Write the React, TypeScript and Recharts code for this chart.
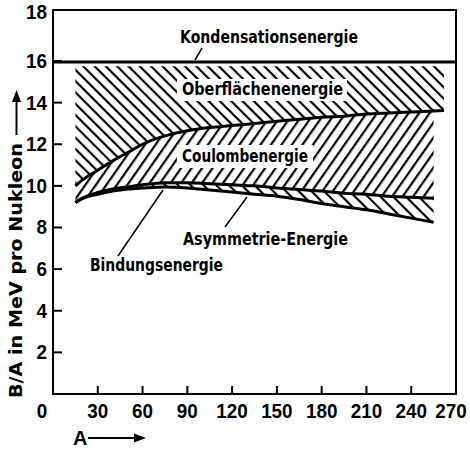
import React from 'react'
import {
  ComposedChart,
  Area,
  Line,
  XAxis,
  YAxis,
  ReferenceLine,
  ReferenceArea,
} from 'recharts'

// Massenzahl A
const massNumbers = [15, 20, 30, 40, 50, 60, 75, 90, 105, 120, 135, 150, 165, 180, 195, 210, 225, 240, 255, 262]
// Volumen- minus Oberflächenenergie
const surfaceCurve = [10.0, 10.3, 10.75, 11.2, 11.6, 12.0, 12.4, 12.65, 12.8, 12.9, 13.0, 13.1, 13.2, 13.3, 13.35, 13.45, 13.5, 13.55, 13.6, 13.62]
// zusätzlich minus Coulombenergie
const coulombCurve = [9.2, 9.42, 9.68, 9.85, 9.95, 10.05, 10.15, 10.15, 10.1, 10.05, 10.0, 9.9, 9.82, 9.75, 9.65, 9.6, 9.5, 9.45, 9.4, null]
// Bindungsenergie (zusätzlich minus Asymmetrie-Energie)
const bindingCurve = [9.2, 9.4, 9.6, 9.75, 9.85, 9.9, 9.95, 9.9, 9.8, 9.7, 9.6, 9.5, 9.35, 9.15, 9.0, 8.85, 8.65, 8.45, 8.25, null]
const condensationLevel = 15.95
const surfaceHatchTop = 15.75

const xTicks = [0, 30, 60, 90, 120, 150, 180, 210, 240, 270]
const yTicks = [2, 4, 6, 8, 10, 12, 14, 16, 18]

const chartData = massNumbers.map((a, i) => ({
  a,
  surf: surfaceCurve[i],
  coul: coulombCurve[i],
  bind: bindingCurve[i],
  surfBand: [surfaceCurve[i], surfaceHatchTop],
  coulBand: coulombCurve[i] == null ? null : [coulombCurve[i], surfaceCurve[i]],
  asymBand: bindingCurve[i] == null ? null : [bindingCurve[i], coulombCurve[i]],
}))

const font = "'DejaVu Sans', 'Liberation Sans', sans-serif"
const numStyle = { fontFamily: "'Liberation Sans', Arial, sans-serif", fontWeight: 700, fontSize: 20, fill: '#000' }
const textStyle = { fontFamily: font, fontWeight: 700, fontSize: 18, fill: '#000' }

const digitWidth = (v: number) => String(v).length * 10.5

const YTick = (props: any) => {
  const { x, y, payload } = props
  const v = payload.value
  return (
    <g>
      {v !== 18 && <line x1={x} y1={y} x2={x + 9} y2={y} stroke="#000" strokeWidth={2} />}
      <text
        x={x - 6 - digitWidth(v)}
        y={v === 18 ? y - 7 : y}
        dominantBaseline="central"
        style={numStyle}
        textLength={digitWidth(v)}
        lengthAdjust="spacingAndGlyphs"
      >
        {v}
      </text>
    </g>
  )
}

const XTick = (props: any) => {
  const { x, y, payload } = props
  const v = payload.value
  const cx = v === 0 ? x - 11 : v === 270 ? x - 5 : x
  return (
    <g>
      {v !== 0 && v !== 270 && <line x1={x} y1={y} x2={x} y2={y - 8} stroke="#000" strokeWidth={2} />}
      <text
        x={cx - digitWidth(v) / 2}
        y={y + 24}
        style={numStyle}
        textLength={digitWidth(v)}
        lengthAdjust="spacingAndGlyphs"
      >
        {v}
      </text>
    </g>
  )
}

// labels and leader lines drawn on top of the hatching
function Annotations() {
  return (
    <svg width={470} height={450} style={{ position: 'absolute', left: 0, top: 0, pointerEvents: 'none' }}>
      <text x={180} y={43} style={textStyle} textLength={178} lengthAdjust="spacingAndGlyphs">Kondensationsenergie</text>
      <line x1={202} y1={48} x2={195} y2={60} stroke="#000" strokeWidth={1.5} />
      <rect x={177} y={79} width={170} height={22} fill="#fff" />
      <text x={182} y={95} style={textStyle} textLength={161} lengthAdjust="spacingAndGlyphs">Oberflächenenergie</text>
      <rect x={177} y={145} width={136} height={23} fill="#fff" />
      <text x={182} y={162} style={textStyle} textLength={126} lengthAdjust="spacingAndGlyphs">Coulombenergie</text>
      <text x={183} y={245} style={textStyle} textLength={165} lengthAdjust="spacingAndGlyphs">Asymmetrie-Energie</text>
      <line x1={247} y1={197} x2={225} y2={227} stroke="#000" strokeWidth={1.5} />
      <text x={90} y={271} style={textStyle} textLength={133} lengthAdjust="spacingAndGlyphs">Bindungsenergie</text>
      <line x1={163} y1={190} x2={118} y2={256} stroke="#000" strokeWidth={1.5} />

      <text
        x={22}
        y={398}
        transform="rotate(-90 22 398)"
        style={textStyle}
        textLength={255}
        lengthAdjust="spacingAndGlyphs"
      >
        B/A in MeV pro Nukleon
      </text>
      <line x1={16.5} y1={135} x2={16.5} y2={100} stroke="#000" strokeWidth={2} />
      <path d="M 16.5 90 L 12 102 L 21 102 Z" fill="#000" />

      <text x={73} y={445} style={numStyle}>A</text>
      <line x1={88} y1={438} x2={136} y2={438} stroke="#000" strokeWidth={2} />
      <path d="M 146 438 L 134 433.5 L 134 442.5 Z" fill="#000" />
    </svg>
  )
}

export default function App() {
  return (
    <div style={{ position: 'absolute', left: 0, top: 0, width: 470, height: 450, background: '#fff', overflow: 'hidden' }}>
      <ComposedChart
        width={470}
        height={450}
        data={chartData}
        margin={{ top: 10, right: 14, left: 0, bottom: 0 }}
      >
        <defs>
          <pattern id="hatchBack" width="8" height="8" patternUnits="userSpaceOnUse" patternTransform="rotate(-45)">
            <line x1="4" y1="0" x2="4" y2="8" stroke="#000" strokeWidth="2.2" />
          </pattern>
          <pattern id="hatchFwd" width="8.6" height="8.6" patternUnits="userSpaceOnUse" patternTransform="rotate(35)">
            <line x1="4" y1="0" x2="4" y2="8.6" stroke="#000" strokeWidth="2.2" />
          </pattern>
          <pattern id="hatchAsym" width="9" height="9" patternUnits="userSpaceOnUse" patternTransform="rotate(-45)">
            <line x1="4" y1="0" x2="4" y2="9" stroke="#000" strokeWidth="2.2" />
          </pattern>
        </defs>
        <XAxis
          dataKey="a"
          type="number"
          domain={[0, 270]}
          ticks={xTicks}
          axisLine={false}
          tickLine={false}
          tickSize={0}
          tickMargin={0}
          height={56}
          tick={<XTick />}
          interval={0}
        />
        <YAxis
          type="number"
          domain={[0, 18.45]}
          ticks={yTicks}
          axisLine={false}
          tickLine={false}
          tickSize={0}
          tickMargin={0}
          width={53}
          tick={<YTick />}
          interval={0}
        />
        <Area dataKey="surfBand" type="monotone" stroke="none" fill="url(#hatchBack)" fillOpacity={1} isAnimationActive={false} />
        <Area dataKey="coulBand" type="monotone" stroke="none" fill="url(#hatchFwd)" fillOpacity={1} isAnimationActive={false} />
        <Area dataKey="asymBand" type="monotone" stroke="none" fill="url(#hatchAsym)" fillOpacity={1} isAnimationActive={false} />
        <Line dataKey="surf" type="monotone" stroke="#000" strokeWidth={3} dot={false} isAnimationActive={false} />
        <Line dataKey="coul" type="monotone" stroke="#000" strokeWidth={3} dot={false} isAnimationActive={false} />
        <Line dataKey="bind" type="monotone" stroke="#000" strokeWidth={3} dot={false} isAnimationActive={false} />
        <ReferenceLine y={condensationLevel} stroke="#000" strokeWidth={3} />
        <ReferenceArea x1={0} x2={270} y1={0} y2={18.45} fill="none" stroke="#000" strokeWidth={2} />
      </ComposedChart>
      <Annotations />
    </div>
  )
}
